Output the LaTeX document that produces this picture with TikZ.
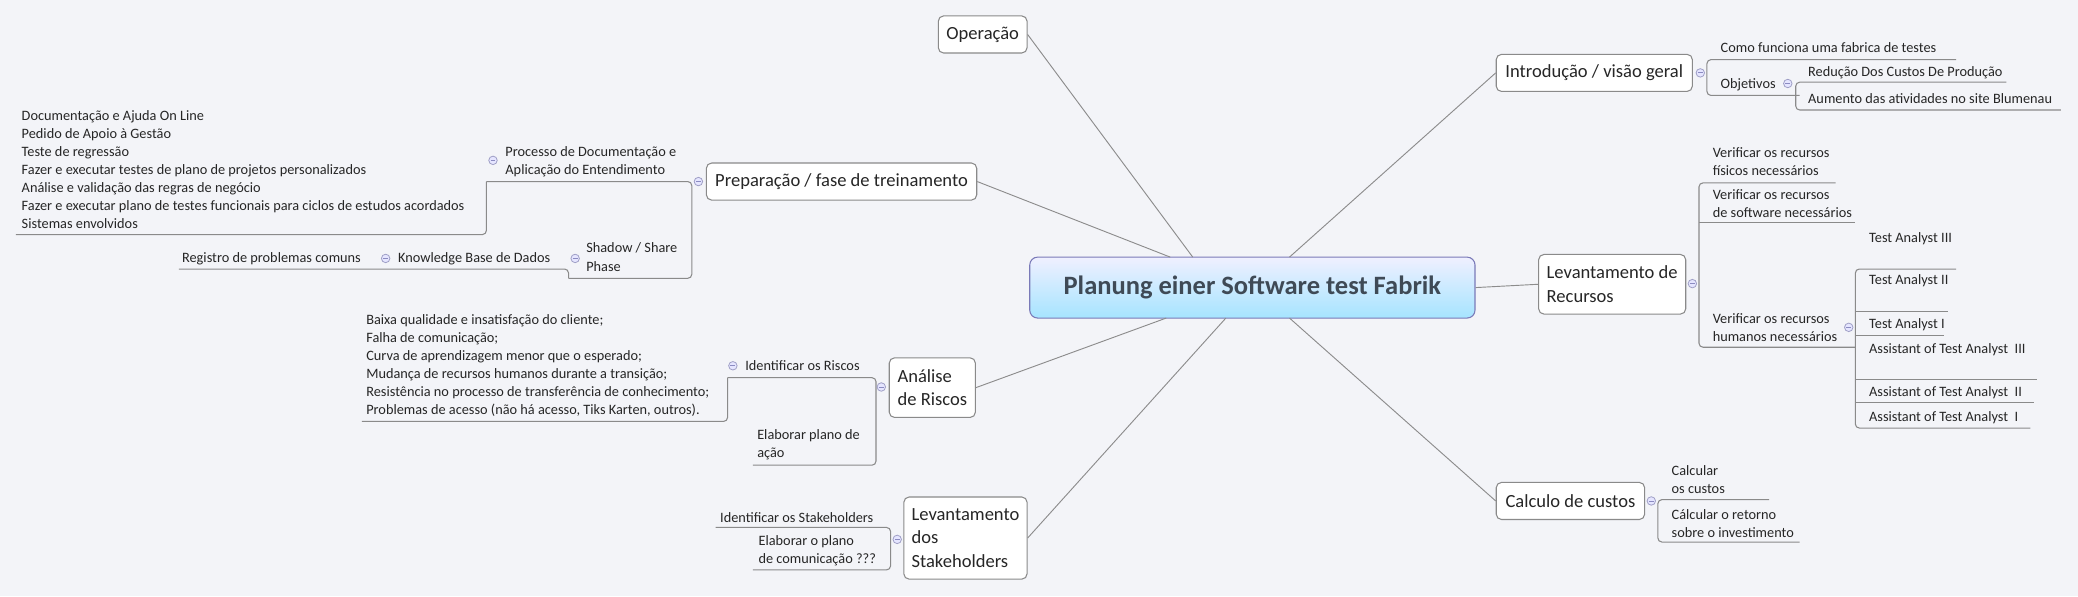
\documentclass[tikz,border=0pt]{standalone}
\usepackage{fontspec}
\setmainfont{Carlito}
\definecolor{bg}{HTML}{F3F4F8}
\definecolor{ln}{HTML}{8C8C8C}
\definecolor{bx}{HTML}{8A8A8A}
\definecolor{tx}{HTML}{262626}
\definecolor{ttl}{HTML}{3F4A56}
\begin{document}
\begin{tikzpicture}[x=0.5pt,y=-0.5pt,
  branch/.style={draw=bx, fill=white, rounded corners=2pt, font=\fontsize{7}{8.8}\selectfont, align=left, inner sep=2pt, text=tx},
  leaf/.style={anchor=north west, inner sep=0pt, yshift=-1pt, font=\fontsize{5.4}{6.8}\selectfont, align=left, text=tx},
  con/.style={draw=ln, line width=0.35pt},
  und/.style={draw=bx, line width=0.4pt, rounded corners=1.5pt},
  tog/.style={circle, draw=blue!25!gray!60, fill=blue!10, minimum size=3.2pt, inner sep=0pt, line width=0.3pt, path picture={\draw[blue!30!gray!70, line width=0.3pt] ([xshift=-0.9pt]path picture bounding box.center) -- ([xshift=0.9pt]path picture bounding box.center);}}]
\fill[bg] (0,0) rectangle (1568,450);
\useasboundingbox (0,0) rectangle (1568,450);
% central
\node[draw=blue!30!gray!80, rounded corners=3pt, top color=blue!6, bottom color=blue!30!cyan!35, minimum width=168pt, minimum height=23pt, font=\fontsize{10}{12}\selectfont\bfseries, text=ttl] (c) at (945,217) {Planung einer Software test Fabrik};
% branches
\node[branch, minimum width=33.5pt, minimum height=14pt] (op) at (741.5,26) {Operação};
\node[branch, minimum width=102pt, minimum height=14pt] (prep) at (635,137) {Preparação / fase de treinamento};
\node[branch, minimum width=32.5pt, minimum height=22.5pt] (anal) at (703.5,292.5) {Análise\\de Riscos};
\node[branch, minimum width=46.5pt, minimum height=31pt] (stake) at (728.5,406) {Levantamento\\dos\\Stakeholders};
\node[branch, minimum width=74pt, minimum height=14pt] (intro) at (1203,55) {Introdução / visão geral};
\node[branch, minimum width=55.5pt, minimum height=22.5pt] (rec) at (1216.5,214.5) {Levantamento de\\Recursos};
\node[branch, minimum width=56pt, minimum height=14pt] (calc) at (1185,378) {Calculo de custos};
\draw[con] (op.east) -- (900,194);
\draw[con] (prep.east) -- (883,194);
\draw[con] (anal.east) -- (880,240);
\draw[con] (stake.east) -- (925,240);
\draw[con] (intro.west) -- (973,194);
\draw[con] (rec.west) -- (c.east);
\draw[con] (calc.west) -- (973,240);
% ---- Intro
\draw[und] (1476,45) -- (1288,45) -- (1288,72) -- (1358,72);
\node[leaf] (t1) at (1298,30) {Como funciona uma fabrica de testes};
\node[leaf] (t2) at (1298,57) {Objetivos};
\draw[und] (1514,62) -- (1355,62) -- (1355,83) -- (1555,83);
\node[leaf] (t3) at (1364,48) {Redução Dos Custos De Produção};
\node[leaf] (t4) at (1364,68) {Aumento das atividades no site Blumenau};
\node[tog] at (1283,55) {};
\node[tog] at (1349,63) {};
% ---- Recursos
\draw[und] (1385,138) -- (1282,138) -- (1282,262) -- (1400,262);
\draw[und] (1282,168) -- (1400,168);
\node[leaf] at (1292,109) {Verificar os recursos\\físicos necessários};
\node[leaf] at (1292,141) {Verificar os recursos\\de software necessários};
\node[leaf] at (1292,234) {Verificar os recursos\\humanos necessários};
\node[tog] at (1277,214) {};
\draw[und] (1476,203) -- (1400,203) -- (1400,323) -- (1532,323);
\draw[und] (1400,235) -- (1470,235);
\draw[und] (1400,253) -- (1467,253);
\draw[und] (1400,286) -- (1537,286);
\draw[und] (1400,304) -- (1535,304);
\node[leaf] at (1410,173) {Test Analyst III};
\node[leaf] at (1410,205) {Test Analyst II};
\node[leaf] at (1410,238) {Test Analyst I};
\node[leaf] at (1410,257) {Assistant of Test Analyst \ III};
\node[leaf] at (1410,289) {Assistant of Test Analyst \ II};
\node[leaf] at (1410,308) {Assistant of Test Analyst \ I};
\node[tog] at (1395,247) {};
% ---- Calculo
\draw[und] (1335,377) -- (1251,377) -- (1251,409) -- (1358,409);
\node[leaf] at (1261,349) {Calcular\\os custos};
\node[leaf] at (1261,382) {Cálcular o retorno\\sobre o investimento};
\node[tog] at (1246,378) {};
% ---- Preparacao
\draw[und] (367,137) -- (522,137) -- (522,210) -- (429,210);
\node[leaf] at (381,108) {Processo de Documentação e\\ Aplicação do Entendimento};
\node[leaf] at (442,181) {Shadow / Share\\Phase};
\node[tog] at (527,137) {};
\draw[und] (12,177) -- (367,177) -- (367,137);
\node[leaf] at (16,81) {Documentação e Ajuda On Line\\Pedido de Apoio à Gestão\\Teste de regressão\\Fazer e executar testes de plano de projetos personalizados\\ Análise e validação das regras de negócio\\Fazer e executar plano de testes funcionais para ciclos de estudos acordados\\Sistemas envolvidos};
\node[tog] at (372,121) {};
\draw[und] (135,203) -- (429,203) -- (429,210);
\node[leaf] at (300,188) {Knowledge Base de Dados};
\node[leaf] at (137,188) {Registro de problemas comuns};
\node[tog] at (434,195) {};
\node[tog] at (291,195) {};
% ---- Analise
\draw[und] (549,285) -- (661,285) -- (661,351) -- (568,351);
\node[leaf] at (562,270) {Identificar os Riscos};
\node[leaf] at (571,322) {Elaborar plano de\\ação};
\node[tog] at (665,292) {};
\draw[und] (273,318) -- (549,318) -- (549,285);
\node[leaf] at (276,235) {Baixa qualidade e insatisfação do cliente;\\Falha de comunicação;\\Curva de aprendizagem menor que o esperado;\\Mudança de recursos humanos durante a transição;\\Resistência no processo de transferência de conhecimento;\\Problemas de acesso (não há acesso, Tiks Karten, outros).};
\node[tog] at (553,276) {};
% ---- Stakeholders
\draw[und] (540,398) -- (672,398) -- (672,430) -- (568,430);
\node[leaf] at (543,384) {Identificar os Stakeholders};
\node[leaf] at (572,402) {Elaborar o plano\\de comunicação ???};
\node[tog] at (677,407) {};
\end{tikzpicture}
\end{document}
